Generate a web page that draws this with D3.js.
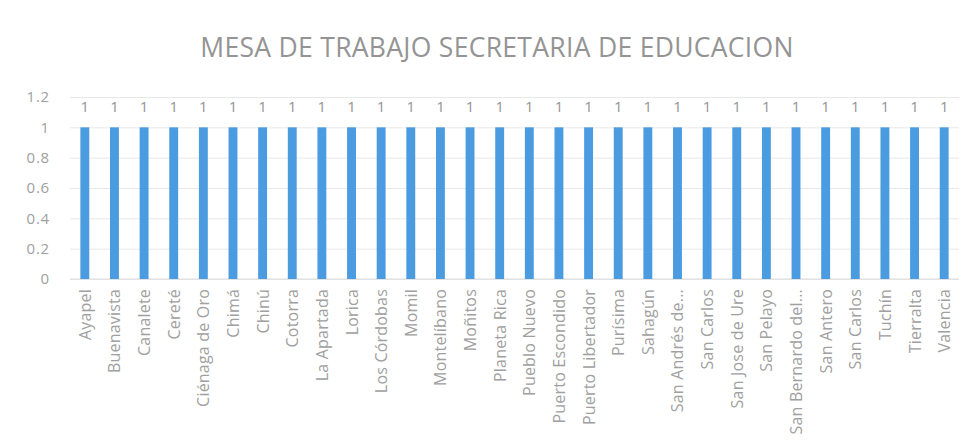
<!DOCTYPE html>
<html>
<head>
<meta charset="utf-8">
<script src="https://cdn.jsdelivr.net/npm/d3@7"></script>
<style>
  body { margin: 0; background: #fff; }
  text { font-family: "Open Sans", "Liberation Sans", sans-serif; }
</style>
</head>
<body>
<div id="chart"></div>
<script>
const municipios = ["Ayapel", "Buenavista", "Canalete", "Cereté", "Ciénaga de Oro", "Chimá", "Chinú",
  "Cotorra", "La Apartada", "Lorica", "Los Córdobas", "Momil", "Montelíbano", "Moñitos",
  "Planeta Rica", "Pueblo Nuevo", "Puerto Escondido", "Puerto Libertador", "Purísima",
  "Sahagún", "San Andrés de...", "San Carlos", "San Jose de Ure", "San Pelayo",
  "San Bernardo del...", "San Antero", "San Carlos", "Tuchín", "Tierralta", "Valencia"];
const valores = [1, 1, 1, 1, 1, 1, 1, 1, 1, 1, 1, 1, 1, 1, 1, 1, 1, 1, 1, 1, 1, 1, 1, 1, 1, 1, 1, 1, 1, 1];
const yTicks = [0, 0.2, 0.4, 0.6, 0.8, 1, 1.2];

const width = 971, height = 441;
const margin = { top: 97, right: 12, bottom: 162, left: 70 };

const svg = d3.select("#chart")
  .append("svg")
  .attr("width", width)
  .attr("height", height);

// indices so the two "San Carlos" stay separate bands
const x = d3.scaleBand()
  .domain(d3.range(municipios.length))
  .range([margin.left, width - margin.right])
  .paddingInner(0.7)
  .paddingOuter(0.35);

const y = d3.scaleLinear()
  .domain([0, 1.2])
  .range([height - margin.bottom, margin.top]);

svg.append("text")
  .attr("x", 497)
  .attr("y", 57)
  .attr("text-anchor", "middle")
  .attr("font-size", 26.5)
  .attr("letter-spacing", 0.3)
  .attr("fill", "#949494")
  .text("MESA DE TRABAJO SECRETARIA DE EDUCACION");

// gridlines + y labels
const yAxis = svg.append("g")
  .attr("transform", `translate(${margin.left},0)`)
  .call(d3.axisLeft(y).tickValues(yTicks).tickFormat(d3.format("~g"))
    .tickSize(-(width - margin.left - margin.right)).tickPadding(20));
yAxis.select(".domain").remove();
yAxis.selectAll("line").attr("stroke", "#e8e8e8");
yAxis.selectAll("text").attr("font-size", 15).attr("fill", "#a0a0a0")
  .attr("letter-spacing", 0.8)
  .style("font-family", "'Open Sans', sans-serif");

svg.append("line")
  .attr("x1", margin.left).attr("x2", width - margin.right)
  .attr("y1", y(0)).attr("y2", y(0))
  .attr("stroke", "#dcdcdc");

svg.append("g")
  .selectAll("rect")
  .data(valores)
  .enter().append("rect")
  .attr("x", (d, i) => x(i))
  .attr("width", x.bandwidth())
  .attr("y", d => y(d))
  .attr("height", d => y(0) - y(d))
  .attr("fill", "#4a9be0");

svg.append("g")
  .selectAll("text")
  .data(valores)
  .enter().append("text")
  .attr("x", (d, i) => x(i) + x.bandwidth() / 2)
  .attr("y", d => y(d) - 15)
  .attr("text-anchor", "middle")
  .attr("font-size", 15)
  .attr("fill", "#949494")
  .text(d => d);

svg.append("g")
  .selectAll("text")
  .data(municipios)
  .enter().append("text")
  .attr("transform", (d, i) => `translate(${x(i) + x.bandwidth() / 2 + 6},${y(0) + 10}) rotate(-90)`)
  .attr("text-anchor", "end")
  .attr("font-size", 16)
  .attr("letter-spacing", 0.2)
  .attr("fill", "#a0a0a0")
  .text(d => d);
</script>
</body>
</html>
